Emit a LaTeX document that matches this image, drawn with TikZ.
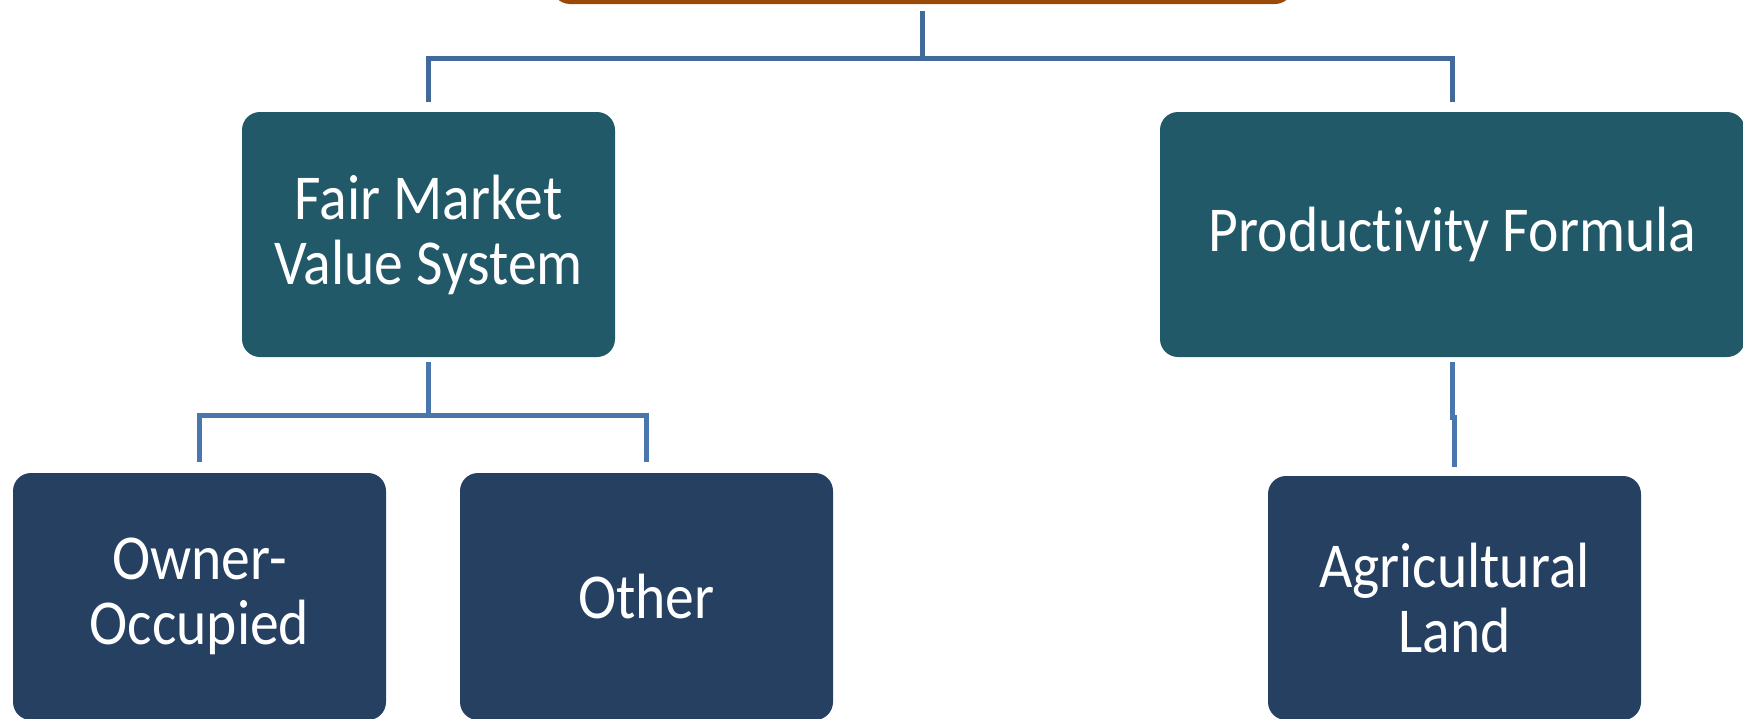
\documentclass[tikz,border=0pt]{standalone}
\usepackage{fontspec}
\setmainfont{Carlito}[FakeStretch=0.9, Ligatures={NoCommon,NoRare,NoContextual}]
\definecolor{teal1}{HTML}{225968}
\definecolor{navy1}{HTML}{264062}
\definecolor{orange1}{HTML}{9A4906}
\definecolor{connA}{HTML}{41699A}
\definecolor{connB}{HTML}{4876AD}
\tikzset{
  box/.style={rounded corners=18pt, inner sep=0pt, text=white, align=center,
    font=\fontsize{64}{65}\selectfont},
  tealbox/.style={box, fill=teal1, minimum width=373pt, minimum height=245pt},
  navybox/.style={box, fill=navy1, minimum width=373pt, minimum height=247pt},
  conn/.style={line width=5pt, connA},
  connb/.style={line width=5pt, connB},
}
\begin{document}
\begin{tikzpicture}[x=1pt,y=-1pt]
\useasboundingbox (0,0) rectangle (1743,718);
\node[box, fill=orange1, minimum width=741pt, minimum height=104pt] (top) at (922.5,-48) {};
\node[tealbox] (fmv) at (428.5,234.5) {Fair Market\\Value System};
\node[tealbox, minimum width=585pt] (pf) at (1452.5,234.5) {Productivity Formula};
\node[navybox] (own) at (199.5,596.5) {Owner-\\Occupied};
\node[navybox] (oth) at (646.5,596.5) {Other};
\node[navybox, minimum height=244pt] (agr) at (1454.5,598) {Agricultural\\Land};
\coordinate (bar1) at (0,58);
\coordinate (bar2) at (0,415);
\coordinate (mid3) at (0,417);
\draw[conn] ([yshift=-7pt]top.south) -- (top.south |- bar1);
\draw[conn] ([yshift=10pt]fmv.north) |- (bar1 -| pf.north) -- ([yshift=10pt]pf.north);
\draw[connb] ([yshift=-5pt]fmv.south) -- (fmv.south |- bar2);
\draw[connb] ([yshift=11pt]own.north) |- (bar2 -| oth.north) -- ([yshift=11pt]oth.north);
\draw[connb] ([yshift=-5pt]pf.south) -- (pf.south |- mid3) -| ([yshift=9pt]agr.north);
\end{tikzpicture}
\end{document}
